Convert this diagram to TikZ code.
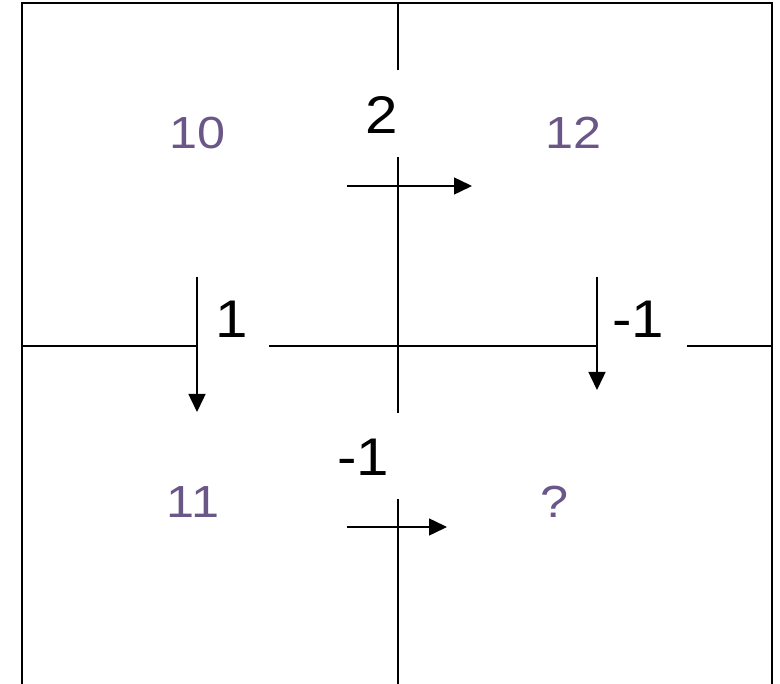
\documentclass[tikz,border=0pt]{standalone}
\usepackage{fontspec}
\setmainfont{Liberation Sans}
\usetikzlibrary{arrows.meta}
\definecolor{cellpurple}{RGB}{107,86,136}
\newcommand{\widecell}[1]{\scalebox{1.12}[1]{#1}}
\newcommand{\wideflux}[1]{\scalebox{1.1}[1]{#1}}
\begin{document}
\begin{tikzpicture}[x=1pt,y=-1pt,
  gridline/.style={line width=1.5pt,black},
  frameline/.style={line width=2pt,black},
  flowarrow/.style={line width=1.5pt,-{Triangle[length=18pt,width=17pt]}},
  cellval/.style={anchor=base,inner sep=0pt,text=cellpurple,font=\fontsize{45}{52}\selectfont},
  fluxval/.style={anchor=base,inner sep=0pt,text=black,font=\fontsize{53}{60}\selectfont}]
\useasboundingbox (0,0) rectangle (780,684);
% frame
\coordinate (fbl) at (22,684);
\coordinate (ftl) at (22,3);
\coordinate (ftr) at (772,3);
\coordinate (fbr) at (772,684);
\draw[frameline] (fbl) -- (ftl) -- (ftr) -- (fbr);
% vertical center line pieces
\coordinate (v1a) at (398,3);   \coordinate (v1b) at (398,70);
\coordinate (v2a) at (398,157); \coordinate (v2b) at (398,413);
\coordinate (v3a) at (398,499); \coordinate (v3b) at (398,684);
\draw[gridline] (v1a) -- (v1b);
\draw[gridline] (v2a) -- (v2b);
\draw[gridline] (v3a) -- (v3b);
% horizontal center line pieces
\coordinate (h1a) at (22,346);  \coordinate (h1b) at (197,346);
\coordinate (h2a) at (269,346); \coordinate (h2b) at (597,346);
\coordinate (h3a) at (687,346); \coordinate (h3b) at (772,346);
\draw[gridline] (h1a) -- (h1b);
\draw[gridline] (h2a) -- (h2b);
\draw[gridline] (h3a) -- (h3b);
% arrows
\coordinate (a1s) at (347,186); \coordinate (a1e) at (472,186);
\coordinate (a2s) at (197,277); \coordinate (a2e) at (197,412);
\coordinate (a3s) at (597,277); \coordinate (a3e) at (597,390);
\coordinate (a4s) at (347,527); \coordinate (a4e) at (447,527);
\draw[flowarrow] (a1s) -- (a1e);
\draw[flowarrow] (a2s) -- (a2e);
\draw[flowarrow] (a3s) -- (a3e);
\draw[flowarrow] (a4s) -- (a4e);
% cell values
\node[cellval] (c10) at (198,149) {\widecell{10}};
\node[cellval] (c12) at (574,149) {\widecell{12}};
\node[cellval] (c11) at (193,518) {\widecell{11}};
\node[cellval] (cq)  at (555,518) {\widecell{?}};
% flux labels
\node[fluxval] (f2)  at (382,134) {\wideflux{2}};
\node[fluxval] (f1)  at (232,338) {\wideflux{1}};
\node[fluxval] (fm1) at (638,338) {\wideflux{-1}};
\node[fluxval] (fm2) at (363,476) {\wideflux{-1}};
\end{tikzpicture}
\end{document}
